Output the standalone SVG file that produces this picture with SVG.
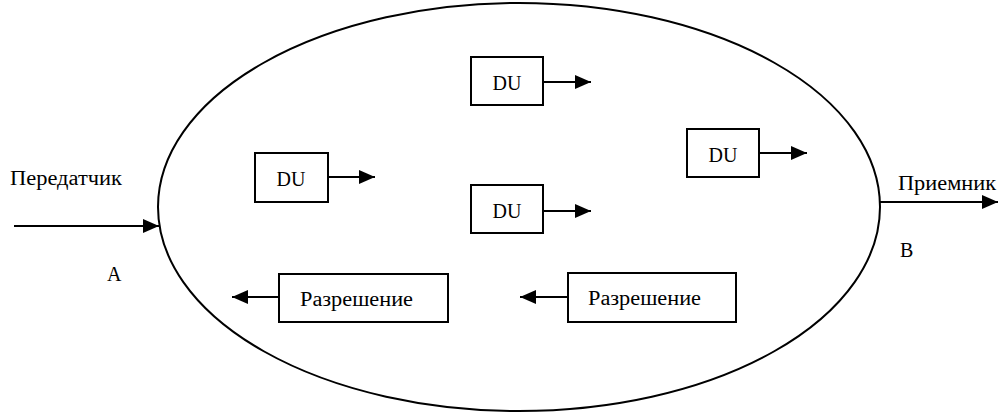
<svg xmlns="http://www.w3.org/2000/svg" width="998" height="414" viewBox="0 0 998 414">
<style>
.box{fill:#fff;stroke:#000;stroke-width:2}
.ln{stroke:#000;stroke-width:2;fill:none}
.t{font-family:"Liberation Serif","DejaVu Serif",serif;font-size:20px;fill:#000}
.c{text-anchor:middle}
</style>
<defs>
<marker id="ah" markerUnits="userSpaceOnUse" markerWidth="16" markerHeight="14" refX="16" refY="7" orient="auto">
<path d="M0,0 L16,7 L0,14 Z" fill="#000"/>
</marker>
</defs>
<g id="cloud"><ellipse cx="519" cy="207" rx="361" ry="204" class="ln"/></g>
<g id="connectors">
<line x1="14" y1="226" x2="159" y2="226" class="ln" marker-end="url(#ah)"/>
<line x1="879" y1="202" x2="998" y2="202" class="ln" marker-end="url(#ah)"/>
<line x1="543" y1="82" x2="591" y2="82" class="ln" marker-end="url(#ah)"/>
<line x1="759" y1="153" x2="807" y2="153" class="ln" marker-end="url(#ah)"/>
<line x1="328" y1="177" x2="375" y2="177" class="ln" marker-end="url(#ah)"/>
<line x1="543" y1="211" x2="591" y2="211" class="ln" marker-end="url(#ah)"/>
<line x1="279" y1="297" x2="232" y2="297" class="ln" marker-end="url(#ah)"/>
<line x1="568" y1="297" x2="520" y2="297" class="ln" marker-end="url(#ah)"/>
</g>
<g id="sender"><text x="10" y="185" class="t" textLength="112" lengthAdjust="spacingAndGlyphs">Передатчик</text></g>
<g id="labelA"><text x="107" y="281" class="t">A</text></g>
<g id="receiver"><text x="898" y="190" class="t" textLength="98" lengthAdjust="spacingAndGlyphs">Приемник</text></g>
<g id="labelB"><text x="900" y="257" class="t">B</text></g>
<g id="du1"><rect x="471" y="57" width="72" height="48" class="box"/><text x="507" y="90" class="t c">DU</text></g>
<g id="du2"><rect x="687" y="129" width="72" height="48" class="box"/><text x="723" y="162" class="t c">DU</text></g>
<g id="du3"><rect x="255" y="153" width="73" height="49" class="box"/><text x="291" y="186" class="t c">DU</text></g>
<g id="du4"><rect x="471" y="185" width="72" height="48" class="box"/><text x="507" y="218" class="t c">DU</text></g>
<g id="perm1"><rect x="279" y="274" width="169" height="48" class="box"/><text x="300" y="306" class="t" textLength="113" lengthAdjust="spacingAndGlyphs">Разрешение</text></g>
<g id="perm2"><rect x="568" y="273" width="168" height="49" class="box"/><text x="588" y="305" class="t" textLength="113" lengthAdjust="spacingAndGlyphs">Разрешение</text></g>
</svg>
